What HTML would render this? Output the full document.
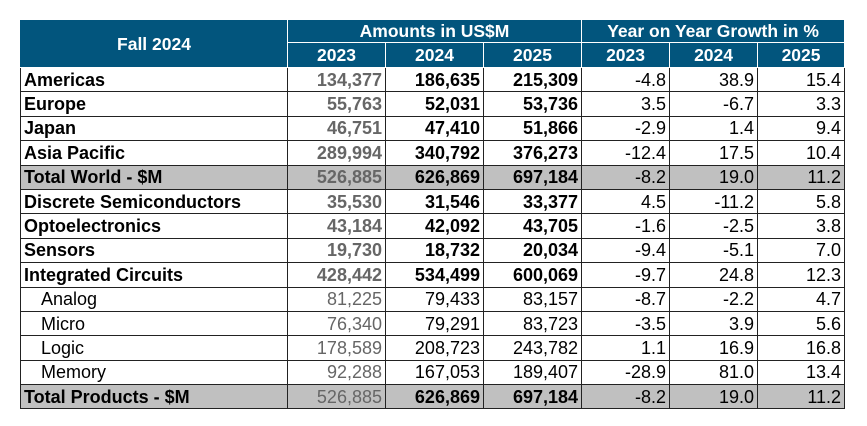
<!DOCTYPE html>
<html><head><style>
body{margin:0;background:#fff;width:867px;height:426px;overflow:hidden;font-family:"Liberation Sans",Arial,sans-serif;}
table{position:absolute;left:20px;top:19px;border-collapse:collapse;table-layout:fixed;width:824px;}
td,th{border:1px solid #222;padding:0 3px;font-size:18px;line-height:20px;white-space:nowrap;overflow:hidden;}
th{background:#02557d;color:#fff;font-weight:bold;border-color:#fff;text-align:center;font-size:17.5px;}
tr.h1 th{height:22px;}
tr.h2 th{height:24px;}
tr.d td{height:23.4px;}
td{text-align:right;}
td.l{text-align:left;font-weight:bold;}
td.s{padding-left:20px;font-weight:normal;}
td.g{color:#666;}
td.b{font-weight:bold;}
tr.t td{background:#c0c0c0;}
</style></head><body>
<table>
<colgroup><col style="width:267px"><col style="width:98px"><col style="width:98px"><col style="width:98px"><col style="width:88px"><col style="width:88px"><col style="width:87px"></colgroup>
<tr class="h1"><th rowspan="2" style="border-left-color:#02557d">Fall 2024</th><th colspan="3">Amounts in US$M</th><th colspan="3">Year on Year Growth in %</th></tr>
<tr class="h2"><th>2023</th><th>2024</th><th>2025</th><th>2023</th><th>2024</th><th>2025</th></tr>
<tr class="d"><td class="l">Americas</td><td class="g b">134,377</td><td class="b">186,635</td><td class="b">215,309</td><td>-4.8</td><td>38.9</td><td>15.4</td></tr>
<tr class="d"><td class="l">Europe</td><td class="g b">55,763</td><td class="b">52,031</td><td class="b">53,736</td><td>3.5</td><td>-6.7</td><td>3.3</td></tr>
<tr class="d"><td class="l">Japan</td><td class="g b">46,751</td><td class="b">47,410</td><td class="b">51,866</td><td>-2.9</td><td>1.4</td><td>9.4</td></tr>
<tr class="d"><td class="l">Asia Pacific</td><td class="g b">289,994</td><td class="b">340,792</td><td class="b">376,273</td><td>-12.4</td><td>17.5</td><td>10.4</td></tr>
<tr class="d t"><td class="l">Total World - $M</td><td class="g b">526,885</td><td class="b">626,869</td><td class="b">697,184</td><td>-8.2</td><td>19.0</td><td>11.2</td></tr>
<tr class="d"><td class="l">Discrete Semiconductors</td><td class="g b">35,530</td><td class="b">31,546</td><td class="b">33,377</td><td>4.5</td><td>-11.2</td><td>5.8</td></tr>
<tr class="d"><td class="l">Optoelectronics</td><td class="g b">43,184</td><td class="b">42,092</td><td class="b">43,705</td><td>-1.6</td><td>-2.5</td><td>3.8</td></tr>
<tr class="d"><td class="l">Sensors</td><td class="g b">19,730</td><td class="b">18,732</td><td class="b">20,034</td><td>-9.4</td><td>-5.1</td><td>7.0</td></tr>
<tr class="d"><td class="l">Integrated Circuits</td><td class="g b">428,442</td><td class="b">534,499</td><td class="b">600,069</td><td>-9.7</td><td>24.8</td><td>12.3</td></tr>
<tr class="d"><td class="l s">Analog</td><td class="g">81,225</td><td>79,433</td><td>83,157</td><td>-8.7</td><td>-2.2</td><td>4.7</td></tr>
<tr class="d"><td class="l s">Micro</td><td class="g">76,340</td><td>79,291</td><td>83,723</td><td>-3.5</td><td>3.9</td><td>5.6</td></tr>
<tr class="d"><td class="l s">Logic</td><td class="g">178,589</td><td>208,723</td><td>243,782</td><td>1.1</td><td>16.9</td><td>16.8</td></tr>
<tr class="d"><td class="l s">Memory</td><td class="g">92,288</td><td>167,053</td><td>189,407</td><td>-28.9</td><td>81.0</td><td>13.4</td></tr>
<tr class="d t"><td class="l">Total Products - $M</td><td class="g">526,885</td><td class="b">626,869</td><td class="b">697,184</td><td>-8.2</td><td>19.0</td><td>11.2</td></tr>
</table>
</body></html>
